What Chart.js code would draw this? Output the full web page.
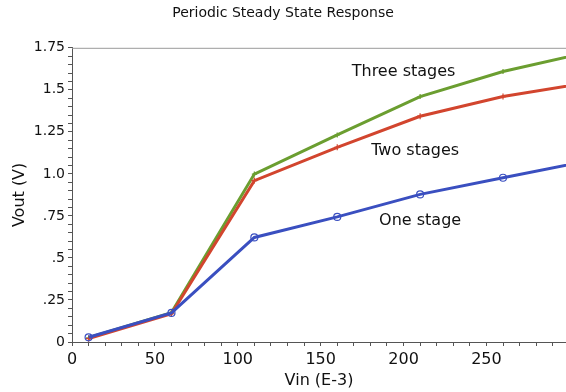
<!DOCTYPE html>
<html lang="en">
<head>
  <meta charset="UTF-8">
  <title>Periodic Steady State Response</title>
  <script src="https://cdn.jsdelivr.net/npm/chart.js"></script>
  <style>
    html, body { margin: 0; padding: 0; background: #fff; overflow: hidden; }
    #wrap { width: 566px; height: 392px; position: relative; }
    #pss { display: block; }
  </style>
</head>
<body>
  <div id="wrap"><canvas id="pss"></canvas></div>

  <script>
    // data
    const vin = [10, 60, 110, 160, 210, 260, 310];
    const oneStage = [0.028, 0.173, 0.622, 0.744, 0.878, 0.977, 1.075];
    const twoStages = [0.020, 0.168, 0.960, 1.158, 1.343, 1.460, 1.540];
    const threeStages = [0.025, 0.175, 0.999, 1.232, 1.460, 1.609, 1.720];

    const seriesLabels = ['One stage', 'Two stages', 'Three stages'];
    // where each name sits, in data units
    const labelX = [210, 207, 200];
    const labelY = [0.72, 1.137, 1.607];

    const font = 'DejaVu Sans, Verdana, sans-serif';

    function pts(ys) {
      return vin.map((x, i) => ({ x: x, y: ys[i] }));
    }

    function yLabel(v) {
      const q = v / 0.25;
      if (Math.abs(q - Math.round(q)) > 1e-6) return '';
      if (Math.abs(v) < 1e-9) return '0';
      if (Math.abs(v - 1) < 1e-9) return '1.0';
      let s = String(Math.round(v * 100) / 100);
      if (s.startsWith('0.')) s = s.slice(1);
      return s;
    }

    const extras = {
      id: 'extras',
      afterDatasetsDraw(chart) {
        const { ctx, chartArea, scales } = chart;
        ctx.save();
        // top frame line
        ctx.strokeStyle = '#9a9a9a';
        ctx.lineWidth = 1;
        ctx.beginPath();
        ctx.moveTo(chartArea.left, chartArea.top + 0.5);
        ctx.lineTo(chartArea.right, chartArea.top + 0.5);
        ctx.stroke();
        // series names
        ctx.fillStyle = '#111';
        ctx.font = '16px ' + font;
        ctx.textAlign = 'center';
        ctx.textBaseline = 'middle';
        seriesLabels.forEach((t, i) => {
          ctx.fillText(t, scales.x.getPixelForValue(labelX[i]), scales.y.getPixelForValue(labelY[i]));
        });
        ctx.restore();
      }
    };

    new Chart(document.getElementById('pss'), {
      type: 'line',
      data: {
        datasets: [
          {
            label: 'One stage', data: pts(oneStage),
            borderColor: '#3a4fc0', borderWidth: 3,
            pointStyle: 'circle', pointRadius: 3.5, pointBorderWidth: 1.2,
            pointBackgroundColor: 'rgba(0,0,0,0)', pointBorderColor: '#3a4fc0'
          },
          {
            label: 'Two stages', data: pts(twoStages),
            borderColor: '#d2452e', borderWidth: 3,
            pointStyle: 'cross', pointRadius: 3, pointBorderWidth: 1.2,
            pointBorderColor: '#d2452e'
          },
          {
            label: 'Three stages', data: pts(threeStages),
            borderColor: '#6b9e30', borderWidth: 3,
            pointStyle: 'cross', pointRadius: 2.5, pointBorderWidth: 1.2,
            pointBorderColor: '#6b9e30'
          }
        ]
      },
      options: {
        responsive: true,
        maintainAspectRatio: false,
        animation: false,
        layout: { padding: 0, autoPadding: false },
        plugins: {
          legend: { display: false },
          tooltip: { enabled: false },
          title: {
            display: true,
            text: 'Periodic Steady State Response',
            color: '#111',
            font: { family: font, size: 14, weight: 'normal' },
            padding: { top: 5, bottom: 26 }
          }
        },
        scales: {
          x: {
            type: 'linear',
            min: 0, max: 298,
            afterFit(s) { s.height = 50; s.paddingRight = 0; s.paddingLeft = 0; },
            border: { display: true, color: '#555', width: 1 },
            grid: { drawOnChartArea: false, drawTicks: true, tickLength: 4, color: '#555' },
            ticks: {
              stepSize: 10, includeBounds: false, autoSkip: false, maxRotation: 0,
              color: '#111', font: { family: font, size: 16 }, padding: 4,
              callback: v => (v % 50 === 0 ? String(v) : '')
            },
            title: {
              display: true, text: 'Vin (E-3)', color: '#111',
              font: { family: font, size: 16 }, padding: { top: 2, bottom: 2 }
            }
          },
          y: {
            min: 0, max: 1.75,
            afterFit(s) { s.width = 72; },
            border: { display: true, color: '#555', width: 1 },
            grid: { drawOnChartArea: false, drawTicks: true, tickLength: 4, color: '#555' },
            ticks: {
              stepSize: 0.05, autoSkip: false, color: '#111',
              font: { family: font, size: 14 }, padding: 3,
              callback: v => yLabel(v)
            },
            title: {
              display: true, text: 'Vout (V)', color: '#111',
              font: { family: font, size: 16 }, padding: { top: 10, bottom: 10 }
            }
          }
        }
      },
      plugins: [extras]
    });
  </script>
</body>
</html>
